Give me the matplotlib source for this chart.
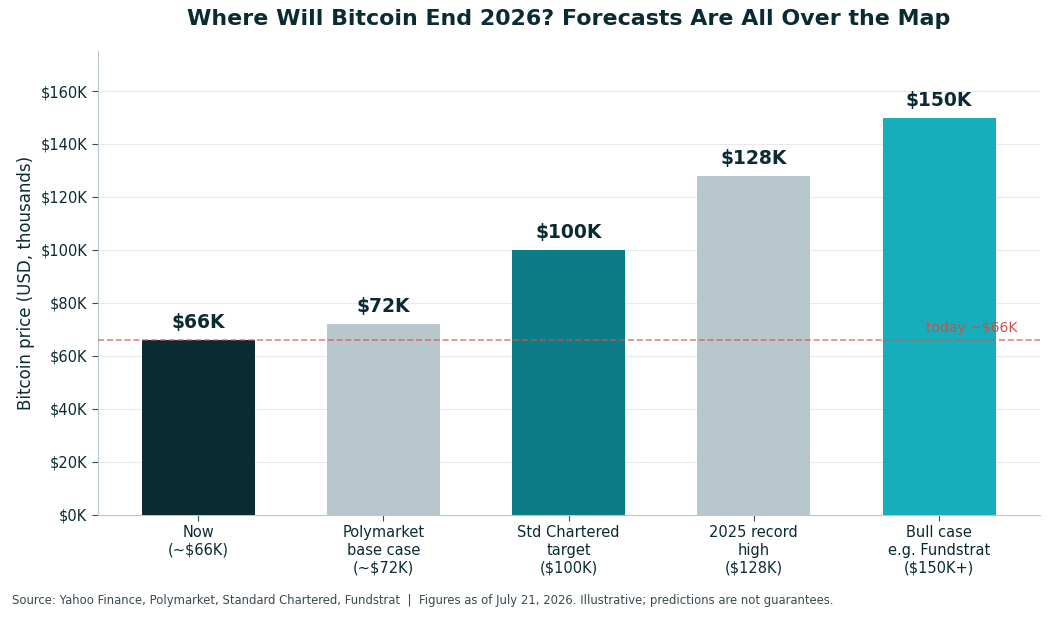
import matplotlib.pyplot as plt
from matplotlib.ticker import FuncFormatter

categories = ["Now\n(~$66K)", "Polymarket\nbase case\n(~$72K)", "Std Chartered\ntarget\n($100K)",
              "2025 record\nhigh\n($128K)", "Bull case\ne.g. Fundstrat\n($150K+)"]
values = [66, 72, 100, 128, 150]
labels = ["$66K", "$72K", "$100K", "$128K", "$150K"]
colors = ["#0b2b33", "#b8c7ce", "#0e7c86", "#b8c7ce", "#17aebc"]
today = 66

dark = "#0b2b33"
narrow = ["DejaVu Sans Condensed", "Liberation Sans Narrow", "DejaVu Sans"]

fig, ax = plt.subplots(figsize=(10.5, 6.18), dpi=100)
fig.subplots_adjust(left=0.093, right=0.99, top=0.917, bottom=0.167)

x = range(len(values))
ax.bar(x, values, width=0.61, color=colors, zorder=3)
for i, v in enumerate(values):
    ax.text(i, v + 3, labels[i], ha="center", va="bottom", fontsize=13.5,
            fontweight="bold", color=dark, zorder=4)

ax.axhline(today, color="#d9534f", linestyle="--", linewidth=1.2, alpha=0.7, zorder=4)
ax.text(4.42, today + 2, "today ~$66K", ha="right", va="bottom", fontsize=10,
        color="#c9514a", zorder=5)

ax.set_xlim(-0.542, 4.542)
ax.set_ylim(0, 175)
ax.set_yticks(range(0, 161, 20))
ax.yaxis.set_major_formatter(FuncFormatter(lambda v, p: f"${int(v)}K"))
ax.set_xticks(list(x))
ax.set_xticklabels(categories)
ax.tick_params(colors="#3a4a50", labelcolor=dark, length=4)
for t in ax.get_xticklabels() + ax.get_yticklabels():
    t.set_family(narrow)
    t.set_fontsize(10.5)

ax.set_ylabel("Bitcoin price (USD, thousands)", fontsize=12, color=dark)
ax.set_title("Where Will Bitcoin End 2026? Forecasts Are All Over the Map",
             fontsize=15.9, fontweight="bold", color=dark, pad=19)

ax.grid(axis="y", color="#e6eaec", linewidth=0.8, zorder=0)
ax.set_axisbelow(True)
for s in ["top", "right"]:
    ax.spines[s].set_visible(False)
for s in ["left", "bottom"]:
    ax.spines[s].set_color("#b8c7ce")

fig.text(0.011, 0.022, "Source: Yahoo Finance, Polymarket, Standard Chartered, Fundstrat  |  "
         "Figures as of July 21, 2026. Illustrative; predictions are not guarantees.",
         fontsize=8.35, color="#3a4a50", family=narrow)

fig.savefig("out.png", dpi=100)
